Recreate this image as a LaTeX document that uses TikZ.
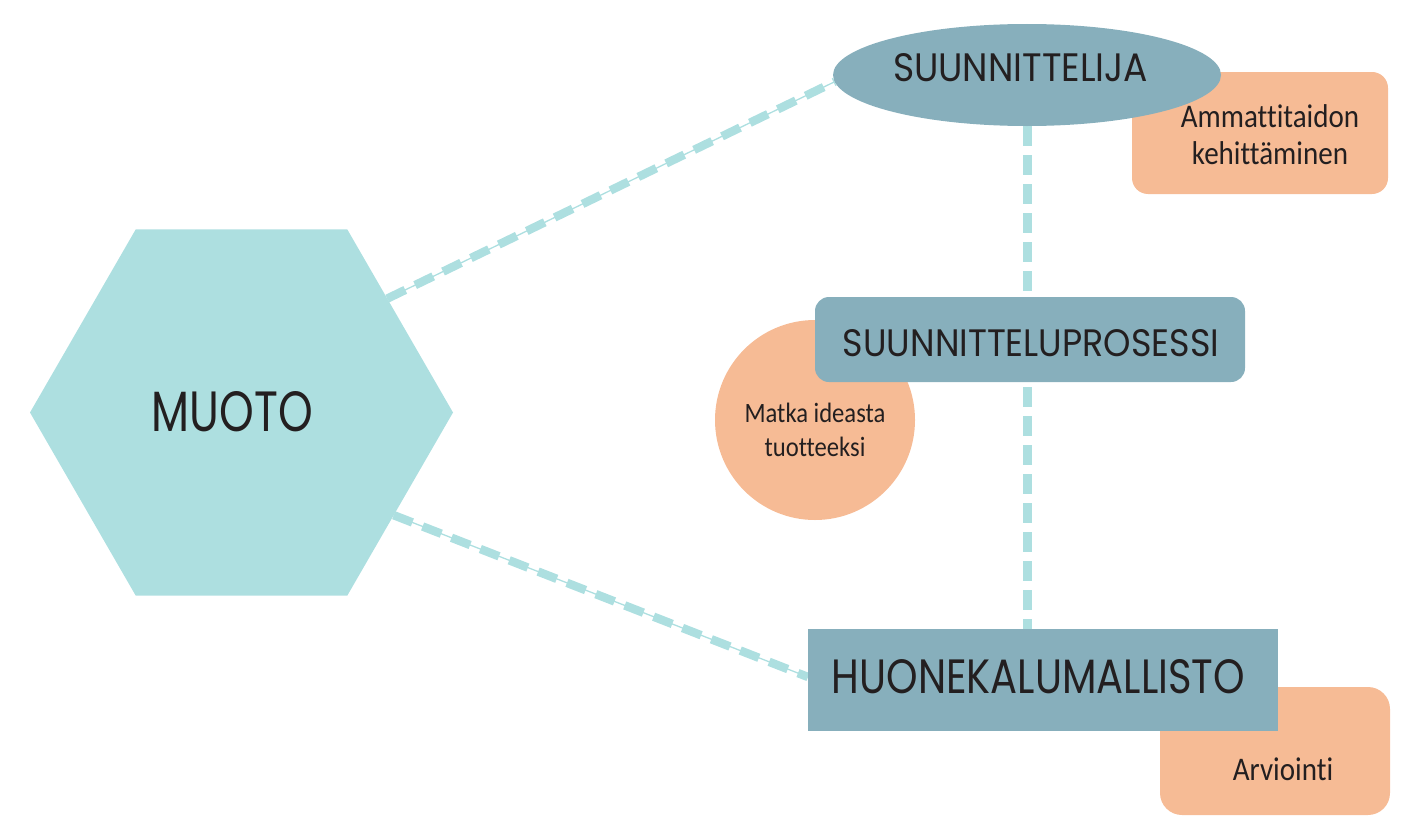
\documentclass[tikz,border=0pt]{standalone}
\usepackage{fontspec}
\usepackage{graphicx}
\setmainfont{Carlito}[Ligatures=NoCommon]
\newfontfamily\titlefont{Poppins}
\usetikzlibrary{shapes.geometric,backgrounds}
\definecolor{hexc}{RGB}{173,223,224}
\definecolor{bluec}{RGB}{135,175,188}
\definecolor{orangec}{RGB}{246,187,149}
\definecolor{textc}{RGB}{35,31,32}
\newcommand\ttl[3]{\resizebox{#1pt}{#2pt}{\titlefont #3}}
\newcommand\sq[1]{\scalebox{0.88}[1]{#1}}
\tikzset{
  every node/.style={inner sep=0pt, outer sep=0pt, text=textc},
  bluebox/.style={fill=bluec},
  orangebox/.style={fill=orangec},
  small/.style={font=\fontsize{33pt}{37pt}\selectfont, align=center},
  conn/.style={draw=hexc, line width=1.3pt,
    postaction={draw=hexc, line width=8.5pt, dash pattern=on 20pt off 11pt}},
  vconn/.style={draw=hexc, line width=9pt, dash pattern=on 20pt off 9pt},
}
\begin{document}
\begin{tikzpicture}[x=1pt, y=-1pt]
\useasboundingbox (0,0) rectangle (1404,816);
% hexagon
\node[regular polygon, regular polygon sides=6, minimum size=423pt, fill=hexc] (hex) at (241.5,412.5) {};
\node (hext) at (232.5,412) {\ttl{161}{40}{MUOTO}};
% orange shapes (behind)
\node[orangebox, rectangle, rounded corners=16pt, minimum width=256pt, minimum height=122pt] (amm) at (1260,133) {};
\node[small] (ammt) at (1270,135) {\sq{Ammattitaidon}\\\sq{kehittäminen}};
\node[orangebox, circle, minimum size=200pt] (circ) at (815,420) {};
\node[small, font=\fontsize{28pt}{34pt}\selectfont] (circt) at (815,430) {\sq{Matka ideasta}\\\sq{tuotteeksi}};
\node[orangebox, rectangle, rounded corners=22pt, minimum width=230pt, minimum height=128pt] (arv) at (1275,751) {};
\node[small] (arvt) at (1283,769) {\sq{Arviointi}};
% blue shapes
\node[bluebox, ellipse, minimum width=388pt, minimum height=102pt] (ell) at (1027,75) {};
\node (ellt) at (1020.5,68) {\ttl{255}{28}{SUUNNITTELIJA}};
\node[bluebox, rectangle, rounded corners=14pt, minimum width=430pt, minimum height=85pt] (proc) at (1030,339.5) {};
\node (proct) at (1031,343) {\ttl{376}{27}{SUUNNITTELUPROSESSI}};
\node[bluebox, rectangle, minimum width=470pt, minimum height=102pt] (huone) at (1043,680) {};
\node (huonet) at (1038.5,677) {\ttl{413}{34}{HUONEKALUMALLISTO}};
% connectors
\begin{scope}[on background layer]
\draw[conn] (hex.38) -- (ell.182);
\draw[conn] (hex.-34) -- ([yshift=3pt]huone.west);
\draw[vconn] (ell.south) -- (ell.south |- huone.north);
\end{scope}
\end{tikzpicture}
\end{document}
